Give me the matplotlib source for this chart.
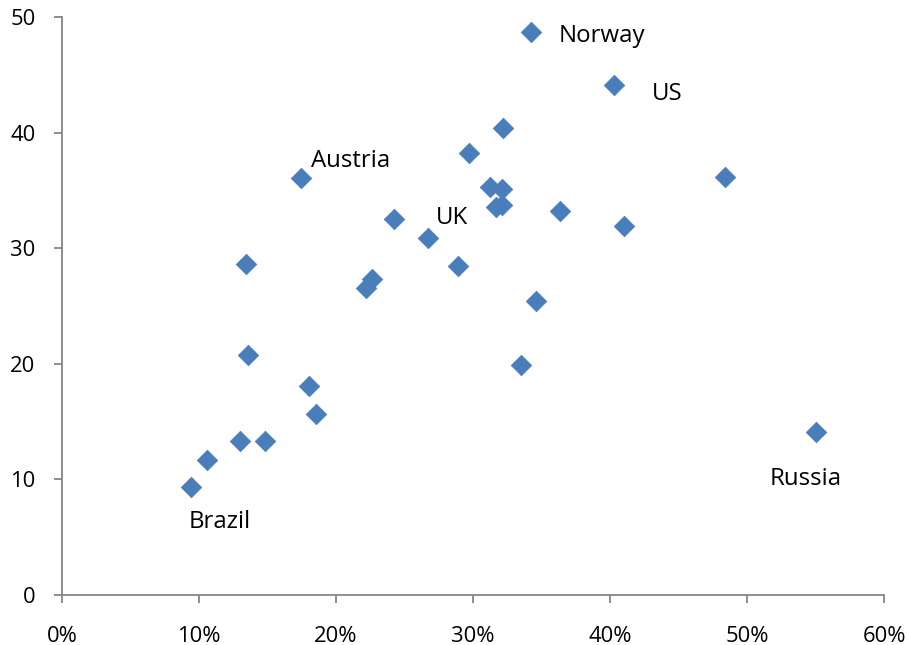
import matplotlib
matplotlib.use("Agg")
import matplotlib.pyplot as plt
from matplotlib.ticker import FuncFormatter, MultipleLocator

plt.rcParams['font.family'] = ['Open Sans', 'DejaVu Sans']

x_share = [0.094, 0.106, 0.130, 0.148, 0.134, 0.136, 0.1745, 0.180, 0.1855,
           0.222, 0.2265, 0.2425, 0.267, 0.289, 0.297, 0.3125, 0.317, 0.321,
           0.321, 0.322, 0.3425, 0.335, 0.346, 0.3635, 0.403, 0.410, 0.484, 0.550]
y_value = [9.3, 11.7, 13.3, 13.3, 28.6, 20.8, 36.1, 18.1, 15.7,
           26.6, 27.3, 32.5, 30.9, 28.5, 38.2, 35.3, 33.6, 33.7,
           35.1, 40.4, 48.7, 19.9, 25.4, 33.2, 44.1, 31.9, 36.2, 14.1]
labels = {20: "Norway", 24: "US", 6: "Austria", 12: "UK", 0: "Brazil", 27: "Russia"}
label_offsets = {"Norway": (27, -4), "US": (38, -9), "Austria": (10, 17),
                 "UK": (8, 20), "Brazil": (-2, -35), "Russia": (-46, -47)}

fig = plt.figure(figsize=(9.08, 6.45), dpi=100)
ax = fig.add_axes([62/908, 1-595/645, (884-62)/908, (595-17)/645])

ax.scatter(x_share, y_value, marker='D', s=110, color='#4A7EBB', zorder=3,
           edgecolors='#4A7EBB', linewidths=0.5)

for i, name in labels.items():
    dx, dy = label_offsets[name]
    ax.annotate(name, (x_share[i], y_value[i]), xytext=(dx, dy),
                textcoords='offset pixels', ha='left', va='center',
                fontsize=17.3)

ax.set_xlim(0, 0.6)
ax.set_ylim(0, 50)
ax.xaxis.set_major_locator(MultipleLocator(0.1))
ax.yaxis.set_major_locator(MultipleLocator(10))
ax.xaxis.set_major_formatter(FuncFormatter(lambda v, p: f"{v*100:.0f}%"))

for s in ['top', 'right']:
    ax.spines[s].set_visible(False)
for s in ['left', 'bottom']:
    ax.spines[s].set_color('#868686')
    ax.spines[s].set_linewidth(1.3)
ax.tick_params(axis='both', colors='#868686', labelcolor='black', labelsize=15.8,
               length=6, width=1.3, direction='out')
ax.tick_params(axis='x', pad=16)
ax.tick_params(axis='y', pad=13)

fig.savefig("out.png", dpi=100)
